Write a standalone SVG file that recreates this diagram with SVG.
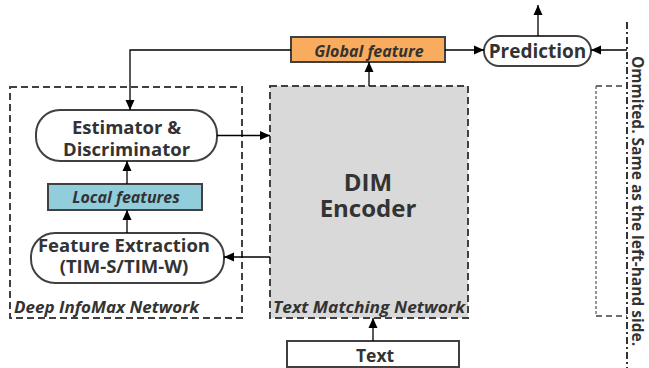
<svg xmlns="http://www.w3.org/2000/svg" width="649" height="368" viewBox="0 0 649 368">
<defs>
<marker id="ah" markerWidth="10" markerHeight="10" viewBox="0 0 10 10" refX="10" refY="5" orient="auto" markerUnits="userSpaceOnUse">
<path d="M0,0.5 L10,5 L0,9.5 Z" fill="#000"/>
</marker>
</defs>
<style>
.t{font-family:"Open Sans","Noto Sans",sans-serif;font-weight:bold;fill:#333;text-anchor:middle}
.i{font-family:"Open Sans","Noto Sans",sans-serif;font-weight:bold;font-style:italic;fill:#333}
.box{stroke:#404040;stroke-width:2}
.dash{fill:none;stroke:#404040;stroke-width:2;stroke-dasharray:7,4}
.c{fill:none;stroke:#000;stroke-width:1.3;marker-end:url(#ah)}
</style>
<rect width="649" height="368" fill="#fff"/>
<g id="dim-network">
<rect class="dash" x="10" y="87" width="232" height="231"/>
<text class="i" x="14" y="313" font-size="16.5" textLength="185" lengthAdjust="spacingAndGlyphs">Deep InfoMax Network</text>
</g>
<g id="text-matching-network">
<rect x="270" y="86" width="198" height="232" fill="#d9d9d9"/>
<rect class="dash" x="270" y="86" width="198" height="232"/>
<text class="i" x="273" y="313" font-size="16.5" textLength="192" lengthAdjust="spacingAndGlyphs">Text Matching Network</text>
<text class="t" x="368" y="191" font-size="24">DIM</text>
<text class="t" x="368" y="217" font-size="24">Encoder</text>
</g>
<g id="estimator">
<rect class="box" x="36" y="110" width="181" height="51" rx="24" fill="#fff"/>
<text class="t" x="126.5" y="134" font-size="18.5">Estimator &amp;</text>
<text class="t" x="126.5" y="156" font-size="18.5">Discriminator</text>
</g>
<g id="local-features">
<rect class="box" x="48" y="184" width="154" height="26" fill="#92cddc"/>
<text class="i" x="126" y="203" font-size="16" text-anchor="middle">Local features</text>
</g>
<g id="feature-extraction">
<rect class="box" x="31" y="233" width="193" height="50" rx="24" fill="#fff"/>
<text class="t" x="124" y="252" font-size="18.5">Feature Extraction</text>
<text class="t" x="124" y="273" font-size="18.5">(TIM-S/TIM-W)</text>
</g>
<g id="global-feature">
<rect class="box" x="291" y="37" width="154" height="25" fill="#f9ac5d"/>
<text class="i" x="369" y="56.5" font-size="16" text-anchor="middle">Global feature</text>
</g>
<g id="prediction">
<rect class="box" x="484" y="36" width="107" height="30" rx="15" fill="#fff"/>
<text class="t" x="537.5" y="58" font-size="19">Prediction</text>
</g>
<g id="text">
<rect class="box" x="287" y="341" width="172" height="26" fill="#fff"/>
<text class="t" x="375" y="362" font-size="17.5">Text</text>
</g>
<g id="omitted">
<path d="M627,22 V368" fill="none" stroke="#333" stroke-width="2" stroke-dasharray="7,3,2,3"/>
<path d="M596,86 V316" fill="none" stroke="#333" stroke-width="1" stroke-dasharray="3,2"/>
<path d="M596,86 H627 M596,316 H627" fill="none" stroke="#404040" stroke-width="1.3" stroke-dasharray="6,4"/>
<text class="t" transform="translate(632,201) rotate(90)" x="0" y="0" font-size="15.5">Ommited. Same as the left-hand side.</text>
</g>
<g id="connectors">
<path class="c" d="M291,50 H130 V110"/>
<path class="c" d="M217,135.5 H270"/>
<path class="c" d="M127,184 V161"/>
<path class="c" d="M127,233 V210"/>
<path class="c" d="M270,257 H224"/>
<path class="c" d="M369,86 V62"/>
<path class="c" d="M373,341 V318"/>
<path class="c" d="M445,50 H484"/>
<path class="c" d="M538,36 V5"/>
<path class="c" d="M627,50 H591"/>
</g>
</svg>
